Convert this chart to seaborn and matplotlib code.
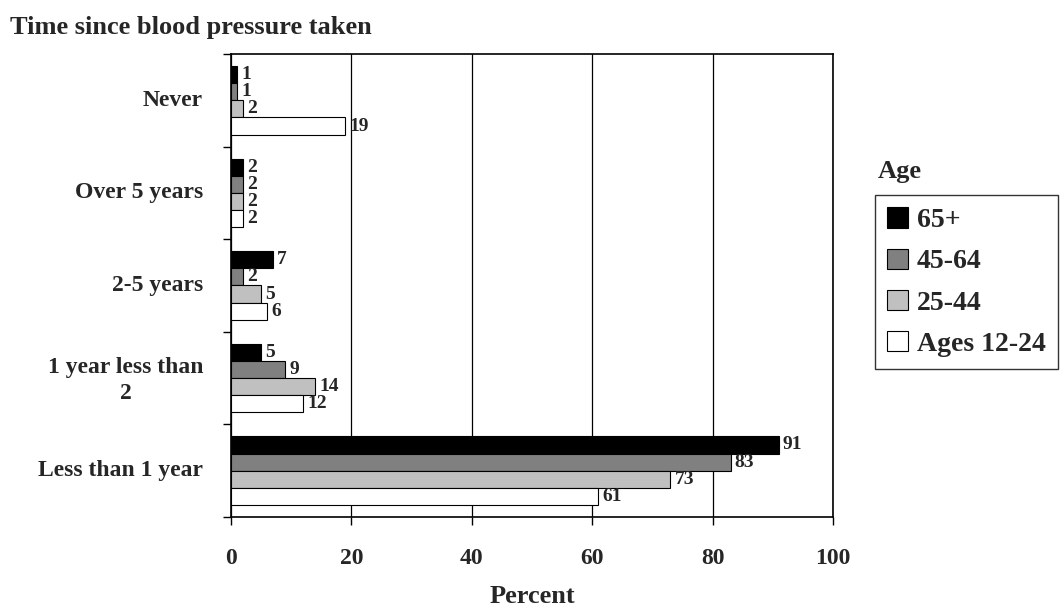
import matplotlib
matplotlib.use("Agg")
import matplotlib.pyplot as plt
import seaborn as sns
import pandas as pd
import numpy as np
from matplotlib.patches import Patch

categories = ["Never", "Over 5 years", "2-5 years", "1 year less than\n2", "Less than 1 year"]
series = ["65+", "45-64", "25-44", "Ages 12-24"]
v_65 = [1, 2, 7, 5, 91]
v_45 = [1, 2, 2, 9, 83]
v_25 = [2, 2, 5, 14, 73]
v_12 = [19, 2, 6, 12, 61]
colors = ["#000000", "#808080", "#c0c0c0", "#ffffff"]
x_ticks = [0, 20, 40, 60, 80, 100]

sns.set_theme(style="white")
plt.rcParams["font.family"] = ["Liberation Serif", "DejaVu Serif"]
plt.rcParams["font.weight"] = "bold"

rows = []
for s, vals in zip(series, [v_65, v_45, v_25, v_12]):
    for c, v in zip(categories, vals):
        rows.append({"Category": c, "Age": s, "Percent": v})
df = pd.DataFrame(rows)

fig = plt.figure(figsize=(10.63, 6.09), dpi=100)
ax = fig.add_axes([0.2173, 0.1511, 0.5663, 0.7602])

sns.barplot(data=df, y="Category", x="Percent", hue="Age", order=categories,
            hue_order=series, palette=colors, orient="h", width=0.74,
            edgecolor="black", linewidth=0.8, ax=ax, legend=False, errorbar=None)

for cont in ax.containers:
    ax.bar_label(cont, fmt="%g", padding=3, fontsize=14, fontweight="bold",
                 family="Liberation Serif")

ax.set_xlim(0, 100)
ax.set_ylim(len(categories) - 0.5, -0.5)
ax.set_xticks(x_ticks)
ax.set_xticklabels([str(t) for t in x_ticks], fontsize=17, fontweight="bold")
ax.tick_params(axis="x", direction="out", length=6, width=1, color="black", pad=16, bottom=True)
ax.set_yticks(np.arange(len(categories)) - 0.03)
ax.set_yticklabels(categories, fontsize=17, fontweight="bold", linespacing=1.35,
                   multialignment="center")
ax.tick_params(axis="y", which="major", length=0, pad=20)
ax.set_yticks(np.arange(-0.5, len(categories), 1.0), minor=True)
ax.tick_params(axis="y", which="minor", direction="out", length=6, width=1, color="black", left=True)

ax.xaxis.grid(True, color="black", linewidth=0.9)
ax.yaxis.grid(False)
ax.set_axisbelow(True)
for sp in ax.spines.values():
    sp.set_visible(True)
    sp.set_color("black")
    sp.set_linewidth(1.2)

ax.set_ylabel("")
ax.set_xlabel("Percent", fontsize=19, fontweight="bold", labelpad=12)

fig.text(0.0094, 0.955, "Time since blood pressure taken", fontsize=19,
         fontweight="bold", ha="left", va="center")

handles = [Patch(facecolor=c, edgecolor="black", linewidth=0.8, label=s)
           for c, s in zip(colors, series)]
leg = fig.legend(handles=handles, loc="upper left", bbox_to_anchor=(0.823, 0.68),
                 frameon=True, fancybox=False, edgecolor="black",
                 prop={"family": "Liberation Serif", "weight": "bold", "size": 20},
                 handlelength=0.75, handleheight=0.75, handletextpad=0.3,
                 labelspacing=0.55, borderpad=0.45, borderaxespad=0)
leg.get_frame().set_linewidth(1.0)
fig.text(0.826, 0.718, "Age", fontsize=19, fontweight="bold", ha="left", va="center")

fig.savefig("out.png", dpi=100)
